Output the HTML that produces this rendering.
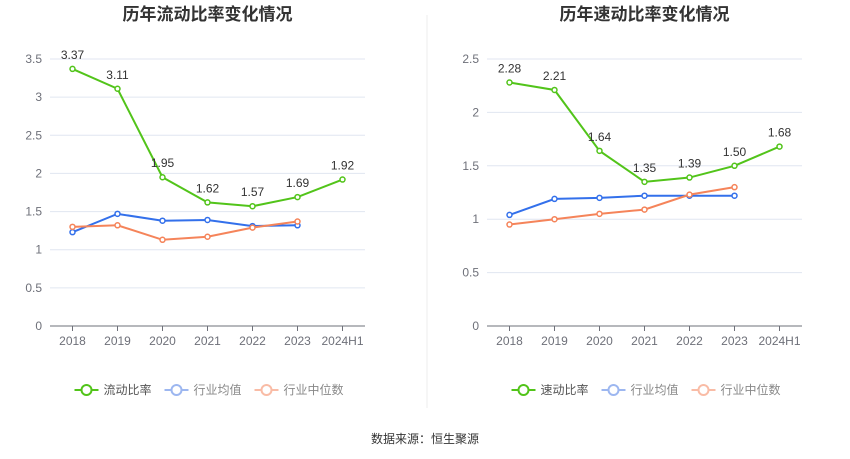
<!DOCTYPE html>
<html><head><meta charset="utf-8"><style>
body{margin:0;background:#fff;}
svg{display:block;font-family:"Liberation Sans","Noto Sans CJK SC",sans-serif;}
</style></head><body>
<svg id="c" width="850" height="459">
<line x1="427" y1="15" x2="427" y2="408" stroke="#eeeeee"/>
<text x="425" y="443" font-size="12" fill="#333" text-anchor="middle">数据来源：恒生聚源</text>
</svg>
<script>
const categories=["2018","2019","2020","2021","2022","2023","2024H1"];
const currentRatio=[3.37,3.11,1.95,1.62,1.57,1.69,1.92];
const currentAvg=[1.23,1.47,1.38,1.39,1.31,1.32];
const currentMed=[1.30,1.32,1.13,1.17,1.29,1.37];
const quickRatio=[2.28,2.21,1.64,1.35,1.39,1.50,1.68];
const quickAvg=[1.04,1.19,1.20,1.22,1.22,1.22];
const quickMed=[0.95,1.00,1.05,1.09,1.23,1.30];
const leftTicks=["0","0.5","1","1.5","2","2.5","3","3.5"];
const rightTicks=["0","0.5","1","1.5","2","2.5"];
const NS="http://www.w3.org/2000/svg";
const svg=document.getElementById('c');
function mk(tag,attrs,parent){const e=document.createElementNS(NS,tag);for(const k in attrs)e.setAttribute(k,attrs[k]);(parent||svg).appendChild(e);return e;}
function chart(prefix,title,x0,x1,ticks,main,avg,med,mainName){
  const g=mk('g',{});
  
  
  const yTop=59,yBot=326,maxV=parseFloat(ticks[ticks.length-1]);
  const y=v=>yBot-(v/maxV)*(yBot-yTop);
  const step=(x1-x0)/categories.length;
  const x=i=>x0+step*(i+0.5);
  const t=mk('text',{x:(x0+x1)/2,y:20,'font-size':17,'font-weight':'bold',fill:'#333','text-anchor':'middle'},g);
  t.textContent=title;
  
  
  ticks.forEach(tk=>{
    const v=parseFloat(tk),yy=y(v);
    if(v>0){const l=mk('line',{x1:x0,x2:x1,y1:yy,y2:yy,stroke:'#e0e6f1'},g);
      
      }
    const tt=mk('text',{x:x0-8,y:yy+4,'font-size':12,fill:'#6e7079','text-anchor':'end'},g);
    tt.textContent=tk;
    
    
  });
  const ax=mk('line',{x1:x0,x2:x1,y1:yBot,y2:yBot,stroke:'#6e7079'},g);
  
  
  categories.forEach((c,i)=>{
    mk('line',{x1:x(i),x2:x(i),y1:yBot,y2:yBot+5,stroke:'#6e7079'},g);
    const tt=mk('text',{x:x(i),y:yBot+19,'font-size':12,fill:'#6e7079','text-anchor':'middle'},g);
    tt.textContent=c;
    
    
  });
  function series(vals,color,name,labels){
    const p=mk('polyline',{points:vals.map((v,i)=>x(i)+','+y(v)).join(' '),fill:'none',stroke:color,'stroke-width':2},g);
    
    
    vals.forEach((v,i)=>{
      const c=mk('circle',{cx:x(i),cy:y(v),r:2.5,fill:'#fff',stroke:color,'stroke-width':1.5},g);
      
      
      if(labels){const l=mk('text',{x:x(i),y:y(v)-10,'font-size':12,fill:'#333','text-anchor':'middle'},g);
        l.textContent=v.toFixed(2);
        
        }
    });
  }
  series(avg,'#3370eb','avg',false);
  series(med,'#f5845a','median',false);
  series(main,'#52c41a','main',true);
  const items=[[mainName,'#52c41a','#555'],['行业均值','#9db7f0','#888'],['行业中位数','#f9bca6','#888']];
  const cx=(x0+x1)/2;
  let lx=cx-133;
  const widths=[90,90,110];
  items.forEach((it,k)=>{
    const lg=mk('g',{},g);
    
    
    mk('line',{x1:lx,x2:lx+24,y1:390,y2:390,stroke:it[1],'stroke-width':2},lg);
    mk('circle',{cx:lx+12,cy:390,r:5,fill:'#fff',stroke:it[1],'stroke-width':2},lg);
    const tt=mk('text',{x:lx+29,y:394,'font-size':12,fill:it[2]},lg);
    tt.textContent=it[0];
    lx+=widths[k];
  });
}
chart('current','历年流动比率变化情况',50,365,leftTicks,currentRatio,currentAvg,currentMed,'流动比率');
chart('quick','历年速动比率变化情况',487,802,rightTicks,quickRatio,quickAvg,quickMed,'速动比率');
</script>
</body></html>
